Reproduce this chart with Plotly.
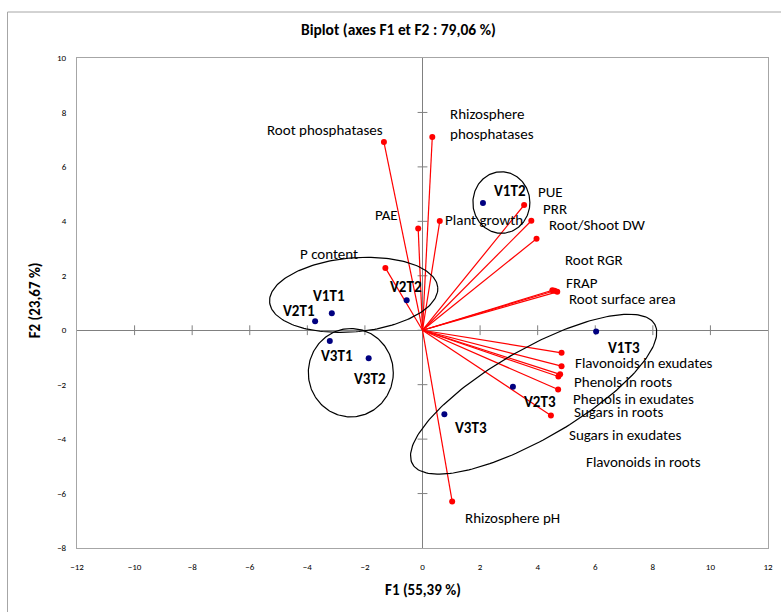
import numpy as np
import plotly.graph_objects as go

# ---------------- data ----------------
var_names = ["Root phosphatases", "Rhizosphere phosphatases", "PAE", "Plant growth", "P content",
             "PUE", "PRR", "Root/Shoot DW", "Root RGR", "FRAP", "Root surface area",
             "Flavonoids in exudates", "Phenols in roots", "Phenols in exudates", "Sugars in roots",
             "Sugars in exudates", "Flavonoids in roots", "Rhizosphere pH"]
var_f1 = [-1.34, 0.34, -0.15, 0.60, -1.29, 3.53, 3.78, 3.96, 4.51, 4.59, 4.68,
          4.83, 4.83, 4.78, 4.72, 4.71, 4.46, 1.03]
var_f2 = [6.91, 7.10, 3.74, 4.01, 2.29, 4.60, 4.02, 3.36, 1.47, 1.45, 1.41,
          -0.83, -1.32, -1.62, -1.70, -2.18, -3.13, -6.29]
var_label_text = ["Root phosphatases", "Rhizosphere<br>phosphatases", "PAE", "Plant growth", "P content",
                  "PUE", "PRR", "Root/Shoot DW", "Root RGR", "FRAP", "Root surface area",
                  "Flavonoids in exudates", "Phenols in roots", "Phenols in exudates", "Sugars in roots",
                  "Sugars in exudates", "Flavonoids in roots", "Rhizosphere pH"]

obs_names = ["V1T1", "V2T1", "V3T1", "V1T2", "V2T2", "V3T2", "V1T3", "V2T3", "V3T3"]
obs_f1 = [-3.15, -3.73, -3.22, 2.10, -0.55, -1.87, 6.03, 3.14, 0.76]
obs_f2 = [0.62, 0.33, -0.40, 4.67, 1.10, -1.03, -0.05, -2.08, -3.09]

x_ticks = [-12, -10, -8, -6, -4, -2, 0, 2, 4, 6, 8, 10, 12]
y_ticks = [-8, -6, -4, -2, 0, 2, 4, 6, 8, 10]

title_text = "Biplot (axes F1 et F2 : 79,06 %)"
x_title = "F1 (55,39 %)"
y_title = "F2 (23,67 %)"

# ---------------- layout / positions (not data) ----------------
W, H = 781, 612
ML, MR, MT, MB = 77, 8, 58, 64
PXX = (W - ML - MR) / 24.0   # px per unit x
PXY = (H - MT - MB) / 18.0   # px per unit y

# label anchor positions (left edge, middle) in data coords
var_label_pos = [(-5.48, 7.35), (0.90, 7.56), (-1.72, 4.23), (0.72, 4.06), (-4.34, 2.79),
                 (3.93, 5.08), (4.13, 4.47), (4.31, 3.86), (4.89, 2.57), (4.91, 1.72), (5.02, 1.14),
                 (5.22, -1.20), (5.20, -1.90), (5.17, -2.51), (5.20, -3.00),
                 (5.02, -3.86), (5.60, -4.84), (1.41, -6.88)]
obs_label_pos = [(-3.24, 1.25), (-4.29, 0.71), (-2.97, -0.96), (3.03, 5.11), (-0.56, 1.59),
                 (-1.83, -1.78), (7.01, -0.64), (4.09, -2.64), (1.69, -3.61)]

# ellipses: center (data), semi-axes (px), rotation (deg)
ellipses = [((2.74, 4.69), 28.7, 30.8, 0),
            ((-2.39, 1.30), 85, 37, 5),
            ((-2.49, -1.56), 42.8, 44.2, 0),
            ((3.86, -2.35), 140.6, 44.8, 29.8)]

FONT = "Carlito, Lato, 'Liberation Sans', sans-serif"
LBL = 15

fig = go.Figure()

# tick marks on the zero axes
fig.add_trace(go.Scatter(x=[t for t in x_ticks if abs(t) < 12], y=[0] * 11, mode="markers",
                         marker=dict(symbol="line-ns", size=7, line=dict(color="#808080", width=1)),
                         hoverinfo="skip", showlegend=False))
fig.add_trace(go.Scatter(x=[0] * 8, y=[t for t in y_ticks if -8 < t < 10], mode="markers",
                         marker=dict(symbol="line-ew", size=7, line=dict(color="#808080", width=1)),
                         hoverinfo="skip", showlegend=False))

# vectors
lx, ly = [], []
for a, b in zip(var_f1, var_f2):
    lx += [0, a, None]
    ly += [0, b, None]
fig.add_trace(go.Scatter(x=lx, y=ly, mode="lines", line=dict(color="#ff0000", width=1.2),
                         hoverinfo="skip", showlegend=False))
fig.add_trace(go.Scatter(x=var_f1, y=var_f2, mode="markers", text=var_names,
                         marker=dict(color="#ff0000", size=6), showlegend=False))

# ellipses
for (cx, cy), a, b, ang in ellipses:
    t = np.linspace(0, 2 * np.pi, 200)
    th = np.deg2rad(ang)
    dx = a * np.cos(t) * np.cos(th) - b * np.sin(t) * np.sin(th)
    dy = a * np.cos(t) * np.sin(th) + b * np.sin(t) * np.cos(th)
    fig.add_trace(go.Scatter(x=cx + dx / PXX, y=cy + dy / PXY, mode="lines",
                             line=dict(color="black", width=1.2), hoverinfo="skip", showlegend=False))

# observations
fig.add_trace(go.Scatter(x=obs_f1, y=obs_f2, mode="markers", text=obs_names,
                         marker=dict(color="#000080", size=6), showlegend=False))

ann = []
for txt, (x, y) in zip(var_label_text, var_label_pos):
    ann.append(dict(x=x, y=y, text=txt, showarrow=False, xanchor="left", yanchor="middle",
                    align="left", font=dict(family=FONT, size=LBL, color="#000000")))
for txt, (x, y) in zip(obs_names, obs_label_pos):
    ann.append(dict(x=x, y=y, text="<b>" + txt + "</b>", showarrow=False, xanchor="center",
                    yanchor="middle", font=dict(family=FONT, size=LBL, color="#000000")))

# titles
ann.append(dict(xref="paper", yref="paper", x=(401 - ML) / (W - ML - MR), y=(H - MB - 30) / (H - MT - MB),
                text="<b>" + title_text + "</b>", showarrow=False, xanchor="center", yanchor="middle",
                font=dict(family=FONT, size=15.5, color="#000000")))
ann.append(dict(xref="paper", yref="paper", x=(425 - ML) / (W - ML - MR), y=(H - MB - 590) / (H - MT - MB),
                text="<b>" + x_title + "</b>", showarrow=False, xanchor="center", yanchor="middle",
                font=dict(family=FONT, size=15, color="#000000")))
ann.append(dict(xref="paper", yref="paper", x=(35 - ML) / (W - ML - MR), y=(H - MB - 300) / (H - MT - MB),
                text="<b>" + y_title + "</b>", showarrow=False, xanchor="center", yanchor="middle",
                textangle=-90, font=dict(family=FONT, size=15, color="#000000")))

# outer chart border
shapes = [dict(type="rect", xref="paper", yref="paper",
               x0=(7 - ML) / (W - ML - MR), x1=(800 - ML) / (W - ML - MR),
               y0=(H - MB - 640) / (H - MT - MB), y1=(H - MB - 12) / (H - MT - MB),
               line=dict(color="#a6a6a6", width=1), fillcolor="rgba(0,0,0,0)", layer="below")]

fig.update_layout(
    width=W, height=H, margin=dict(l=ML, r=MR, t=MT, b=MB),
    paper_bgcolor="white", plot_bgcolor="white",
    annotations=ann, shapes=shapes,
    xaxis=dict(range=[-12, 12], tickvals=x_ticks, showgrid=False, zeroline=True,
               zerolinecolor="#808080", zerolinewidth=1, showline=True, mirror=True,
               linecolor="#a6a6a6", linewidth=1, ticks="", ticklabelstandoff=10,
               tickfont=dict(family=FONT, size=9, color="#000000")),
    yaxis=dict(range=[-8, 10], tickvals=y_ticks, showgrid=False, zeroline=True,
               zerolinecolor="#808080", zerolinewidth=1, showline=True, mirror=True,
               linecolor="#a6a6a6", linewidth=1, ticks="", ticklabelstandoff=8,
               tickfont=dict(family=FONT, size=9, color="#000000")),
    font=dict(family=FONT),
)

fig.write_html("out.html")
